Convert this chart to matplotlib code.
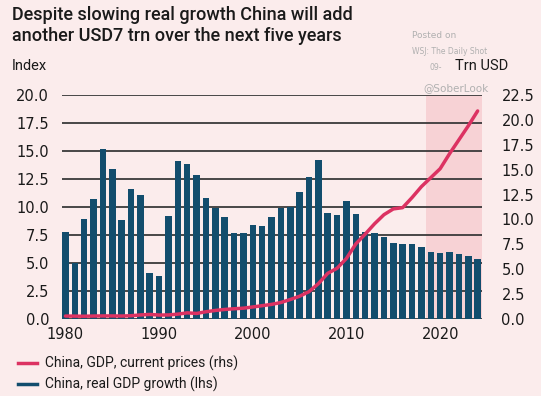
import matplotlib
matplotlib.use("Agg")
import matplotlib.pyplot as plt
from matplotlib.lines import Line2D

years = list(range(1980, 2025))
real_growth = [7.8, 5.0, 8.9, 10.7, 15.2, 13.4, 8.8, 11.6, 11.1, 4.1,
               3.8, 9.2, 14.1, 13.8, 12.9, 10.8, 9.9, 9.1, 7.7, 7.65,
               8.4, 8.3, 9.1, 9.9, 10.0, 11.3, 12.65, 14.2, 9.5, 9.3,
               10.5, 9.4, 7.8, 7.7, 7.3, 6.75, 6.7, 6.7, 6.45, 6.0,
               5.9, 6.0, 5.8, 5.6, 5.4]
gdp_trn = [0.30, 0.29, 0.28, 0.30, 0.31, 0.31, 0.30, 0.33, 0.41, 0.46,
           0.40, 0.41, 0.49, 0.62, 0.56, 0.73, 0.86, 0.96, 1.03, 1.09,
           1.21, 1.34, 1.47, 1.66, 1.96, 2.29, 2.75, 3.55, 4.59, 5.10,
           6.09, 7.55, 8.53, 9.57, 10.48, 11.06, 11.19, 12.2, 13.3, 14.2,
           15.1, 16.6, 18.0, 19.4, 20.9]
forecast_start = 2018.5
left_ticks = [0, 2.5, 5, 7.5, 10, 12.5, 15, 17.5, 20]
right_ticks = [0, 2.5, 5, 7.5, 10, 12.5, 15, 17.5, 20, 22.5]
x_ticks = [1980, 1990, 2000, 2010, 2020]

title = "Despite slowing real growth China will add\nanother USD7 trn over the next five years"
line_label = "China, GDP, current prices (rhs)"
bar_label = "China, real GDP growth (lhs)"

BG = "#fbecec"
SHADE = "#f7d2d5"
BAR = "#124d6d"
LINE = "#dc3262"
GRID = "#3a3a3a"
TXT = "#1a1a1a"

plt.rcParams['font.family'] = ['DejaVu Sans']

fig = plt.figure(figsize=(5.41, 3.96), dpi=100, facecolor=BG)
ax = fig.add_axes([0.114, 0.1944, 0.777, 0.5656])
ax.set_facecolor(BG)
ax2 = ax.twinx()

ax.set_xlim(1979.6, 2024.47)
ax.set_ylim(0, 20)
ax2.set_ylim(0, 22.5)

ax.axvspan(forecast_start, 2024.47, color=SHADE, zorder=0, lw=0)
for t in left_ticks:
    ax.axhline(t, color=GRID, lw=1.3, zorder=1)
ax.bar(years, real_growth, width=0.7, color=BAR, zorder=2)
ax.set_zorder(1)
ax2.set_zorder(2)
ax.patch.set_visible(True)
ax2.patch.set_visible(False)
ax2.plot(years, gdp_trn, color=LINE, lw=2.5, solid_capstyle='round', zorder=3)

for a in (ax, ax2):
    for s in a.spines.values():
        s.set_visible(False)
    a.tick_params(length=0, labelsize=10.5, colors=TXT)

ax.set_yticks(left_ticks)
ax.set_yticklabels([f"{v:.1f}" for v in left_ticks])
ax2.set_yticks(right_ticks)
ax2.set_yticklabels([f"{v:.1f}" for v in right_ticks])
ax.set_xticks(x_ticks)
ax.set_xticklabels([str(v) for v in x_ticks])
ax.tick_params(axis='y', pad=9)
ax2.tick_params(axis='y', pad=14)
ax.tick_params(axis='x', pad=6)

fig.text(12/541, 1 - 6/396, title, fontsize=13, fontfamily='Roboto', fontweight='medium',
         color=TXT, va='top', ha='left', linespacing=1.18)
fig.text(12/541, 1 - 66/396, "Index", fontsize=10.5, fontfamily='Roboto', color=TXT, va='center')
# watermark
fig.text(412/541, 1 - 35/396, "Posted on", fontsize=6.5, color="#b0b0b0", va='center')
fig.text(412/541, 1 - 51/396, "WSJ: The Daily Shot", fontsize=5.5, color="#b0b0b0", va='center')
fig.text(430/541, 1 - 67/396, "09-", fontsize=5.5, color="#b0b0b0", va='center')
fig.text(423/541, 1 - 88/396, "@SoberLook", fontsize=7.5, color="#b0b0b0", va='center')
fig.text(508/541, 1 - 66/396, "Trn USD", fontsize=10.5, fontfamily='Roboto', color=TXT, va='center', ha='right')

handles = [Line2D([0], [0], color=LINE, lw=2.5), Line2D([0], [0], color=BAR, lw=2.5)]
leg = fig.legend(handles, [line_label, bar_label], loc='upper left',
                 bbox_to_anchor=(12/541, 1 - 350/396), frameon=False,
                 prop={'family': 'Roboto', 'size': 10}, handlelength=1.4,
                 handletextpad=0.6, labelspacing=0.45, borderaxespad=0)
for t in leg.get_texts():
    t.set_color(TXT)

fig.savefig("out.png", dpi=100, facecolor=BG)
